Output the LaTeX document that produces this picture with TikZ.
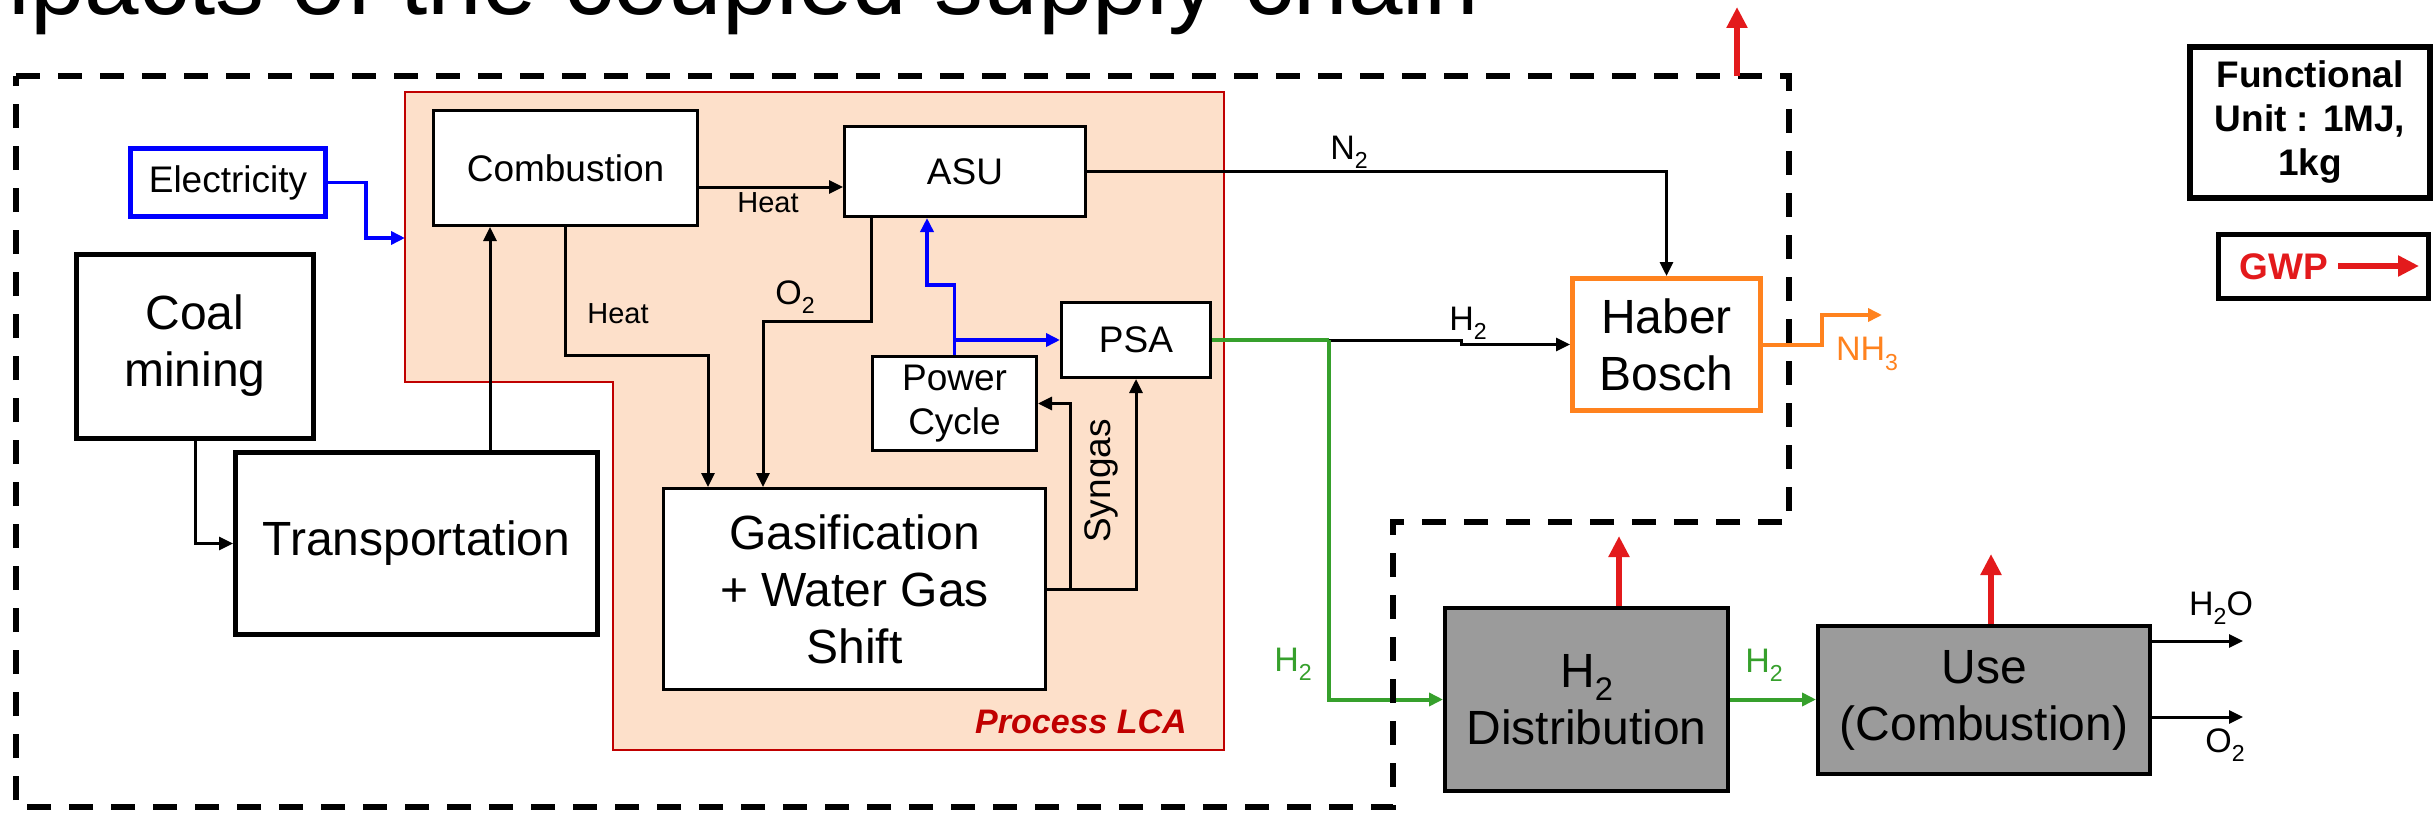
\documentclass[tikz,border=0pt]{standalone}
\usepackage{fontspec}
\usepackage{graphicx}
\setmainfont{Liberation Sans}
\usetikzlibrary{arrows.meta}
\definecolor{lcafill}{RGB}{253,224,202}
\definecolor{lcared}{RGB}{192,0,0}
\definecolor{arrred}{RGB}{227,26,28}
\definecolor{hbor}{RGB}{255,130,30}
\definecolor{htwogreen}{RGB}{54,160,44}
\definecolor{boxgray}{RGB}{155,155,155}
\newcommand\fsL{\fontsize{24}{28.5}\selectfont}
\newcommand\fsM{\fontsize{18.5}{22}\selectfont}
\newcommand\fsS{\fontsize{17}{20}\selectfont}
\newcommand\fsH{\fontsize{14.5}{17}\selectfont}
\newcommand\lowsub[1]{\raisebox{-0.27em}{\scalebox{0.68}{#1}}}
\begin{document}
\begin{tikzpicture}[x=0.5pt,y=-0.5pt,
  every node/.style={inner sep=0pt, align=center},
  box/.style={draw=black, line width=1.5pt, fill=white, font=\fsM},
  bigbox/.style={draw=black, line width=2.5pt, fill=white, font=\fsL},
  graybox/.style={draw=black, line width=2pt, fill=boxgray, font=\fsL},
  arr/.style={line width=1.5pt, -{Triangle[length=7pt,width=6.5pt]}},
  barr/.style={draw=blue, line width=1.75pt, -{Triangle[length=7pt,width=6.5pt]}},
  garr/.style={draw=htwogreen, line width=2pt, -{Triangle[length=7pt,width=6.5pt]}},
  gline/.style={draw=htwogreen, line width=2pt},
  oarr/.style={draw=hbor, line width=2pt, -{Triangle[length=7pt,width=6.5pt]}},
  rarr/.style={draw=arrred, line width=3pt, -{Triangle[length=10.5pt,width=10pt]}},
  lab/.style={font=\fsS},
  heatlab/.style={font=\fsH},
  boundary/.style={draw=black, line width=3pt, dash pattern=on 12pt off 9pt}
]
\useasboundingbox (0,0) rectangle (2435,813);
\fill[white] (0,0) rectangle (2435,813);

% title (cropped by page)
\node[anchor=base west, font=\fontsize{49}{58}\selectfont] (title) at (-79,15) {Impacts of the coupled supply chain};

% Process LCA region
\filldraw[fill=lcafill, draw=lcared, line width=1.3pt]
  (405,92) -- (1224,92) -- (1224,750) -- (613,750) -- (613,382) -- (405,382) -- cycle;
\node[font=\fontsize{17}{20}\selectfont\bfseries\itshape, text=lcared] (lcalab) at (1081,722) {Process LCA};

% boxes
\node[box, minimum width=132pt, minimum height=57.5pt] (comb) at (565.5,168) {Combustion};
\node[box, minimum width=120.5pt, minimum height=45pt] (asu) at (965,171.5) {ASU};
\node[box, draw=blue, line width=2.5pt, minimum width=97.5pt, minimum height=34pt] (elec) at (228,182.5) {Electricity};
\node[bigbox, minimum width=118.5pt, minimum height=92pt] (coal) at (195,346) {Coal\\mining};
\node[bigbox, minimum width=181pt, minimum height=91pt] (trans) at (416.5,543.5) {Transportation};
\node[box, font=\fsL, minimum width=191pt, minimum height=100.5pt] (gas) at (854.5,589) {Gasification\\+ Water Gas\\Shift};
\node[box, minimum width=82pt, minimum height=47pt] (pc) at (954.5,403.5) {Power\\Cycle};
\node[box, minimum width=74.5pt, minimum height=37.5pt] (psa) at (1136,340) {PSA};
\node[bigbox, draw=hbor, minimum width=94pt, minimum height=66pt] (hb) at (1666.5,344.5) {Haber\\Bosch};
\node[graybox, minimum width=141.5pt, minimum height=91.5pt] (dist) at (1586.5,699.5) {H\lowsub{2}\\Distribution};
\node[graybox, minimum width=166pt, minimum height=74pt] (use) at (1984,700) {Use\\(Combustion)};
\node[draw=black, line width=3pt, font=\fsM\bfseries, minimum width=120pt, minimum height=75.5pt] (fu) at (2310,122.5) {Functional\\Unit : 1MJ,\\1kg};
\node[draw=black, line width=2.5pt, minimum width=105pt, minimum height=32pt] (gwp) at (2323,266) {};
\node[font=\fsM\bfseries, text=arrred] (gwpt) at (2284,267) {GWP};

% coordinates
\coordinate (lcain) at (405,238);
\coordinate (j) at (1329,340);
\coordinate (nhend) at (1882,315);
\coordinate (hoend) at (2243,641);
\coordinate (oend) at (2243,717);
\coordinate (topa) at (1737,76);
\coordinate (topb) at (1737,7);
\coordinate (dista) at (1619,536);
\coordinate (usea) at (1991,554);
\coordinate (gwpa) at (2338,266);
\coordinate (gwpb) at (2419,266);

% connectors
\draw[arr] (coal.south) |- (trans.west);
\draw[arr] (490,0 |- trans.north) -- (490,0 |- comb.south);
\draw[barr] (elec.east) -- (366,0 |- elec.east) |- (lcain);
\draw[arr] (comb.east |- 0,187) -- (asu.west |- 0,187);
\node[heatlab] (heat1) at (768,203) {Heat};
\draw[arr] (comb.south) |- (708,355) -- (708,0 |- gas.north);
\node[heatlab] (heat2) at (618,314) {Heat};
\draw[arr] (871,0 |- asu.south) |- (763,321) -- (763,0 |- gas.north);
\node[lab] (olab) at (795,297) {O\lowsub{2}};
\draw[barr] (pc.north) |- (927,285) -- (927,0 |- asu.south);
\draw[barr] (pc.north |- psa.west) -- (psa.west);
\draw[arr] (gas.east) -| (psa.south);
\draw[arr] (1070,0 |- gas.east) |- (pc.east);
\node[font=\fsM, rotate=90] (syn) at (1101,481) {Syngas};
\draw[arr] (asu.east) -| (hb.north);
\node[lab] (nlab) at (1349,152) {N\lowsub{2}};
\draw[gline] (psa.east) -- (j);
\draw[arr] (j) -- (1461,340) -- (1461,0 |- hb.west) -- (hb.west);
\node[lab] (hlab) at (1468,323) {H\lowsub{2}};
\draw[garr] (j) |- (dist.west);
\node[lab, text=htwogreen] (hlab2) at (1293,664) {H\lowsub{2}};
\draw[oarr] (hb.east) -- (1822,0 |- hb.east) |- (nhend);
\node[lab, text=hbor] (nhlab) at (1867,354) {NH\lowsub{3}};
\draw[garr] (dist.east) -- (use.west |- dist.east);
\node[lab, text=htwogreen] (hlab3) at (1764,665) {H\lowsub{2}};
\draw[arr] (use.east |- hoend) -- (hoend);
\node[lab] (holab) at (2221,608) {H\lowsub{2}O};
\draw[arr] (use.east |- oend) -- (oend);
\node[lab] (o2lab) at (2225,745) {O\lowsub{2}};

% boundary
\draw[boundary] (16,76) -- (1789,76) -- (1789,522) -- (1393,522) -- (1393,807) -- (16,807) -- cycle;

% GWP arrows
\draw[rarr] (topa) -- (topb);
\draw[rarr] (1619,0 |- dist.north) -- (dista);
\draw[rarr] (1991,0 |- use.north) -- (usea);
\draw[rarr] (gwpa) -- (gwpb);
\end{tikzpicture}
\end{document}
